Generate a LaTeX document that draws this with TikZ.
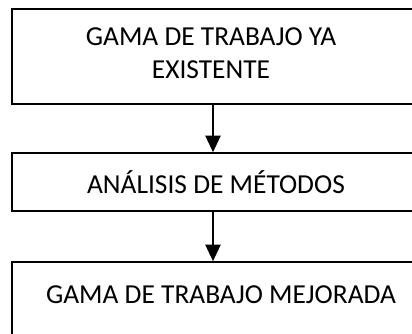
\documentclass[tikz,border=0pt]{standalone}
\usepackage{fontspec}
\setmainfont{Carlito}
\usepackage{tikz}
\usetikzlibrary{arrows.meta,calc}
\usetikzlibrary{positioning}

\tikzset{
  caja/.style={draw,line width=1.4pt,minimum width=12.8cm,inner sep=0pt,anchor=west},
  texto/.style={font=\fontsize{23.4}{28}\selectfont,align=center,inner sep=0pt},
  flecha/.style={line width=1.4pt,-{Triangle[width=0.46cm,length=0.5cm]}}
}

\begin{document}
\begin{tikzpicture}
\useasboundingbox (0,0) rectangle (12.36,-9.99);
\clip (0,0) rectangle (12.36,-9.99);
\node[caja,minimum height=2.85cm] (gama) at (0.33,-1.695) {};
\node[caja,minimum height=1.74cm] (analisis) at (0.33,-5.46) {};
\node[caja,minimum height=2.85cm] (mejorada) at (0.33,-9.285) {};
\node[texto] (tgama) at (6.33,-1.605) {GAMA DE TRABAJO YA\\EXISTENTE};
\node[texto] (tanalisis) at (6.48,-5.46) {ANÁLISIS DE MÉTODOS};
\node[texto] (tmejorada) at (6.63,-8.85) {GAMA DE TRABAJO MEJORADA};
\draw[flecha] ($(gama.south west)+(6.06,0)$) to ($(analisis.north west)+(6.06,0)$);
\draw[flecha] ($(analisis.south west)+(6.06,0)$) to ($(mejorada.north west)+(6.06,0)$);
\end{tikzpicture}
\end{document}
